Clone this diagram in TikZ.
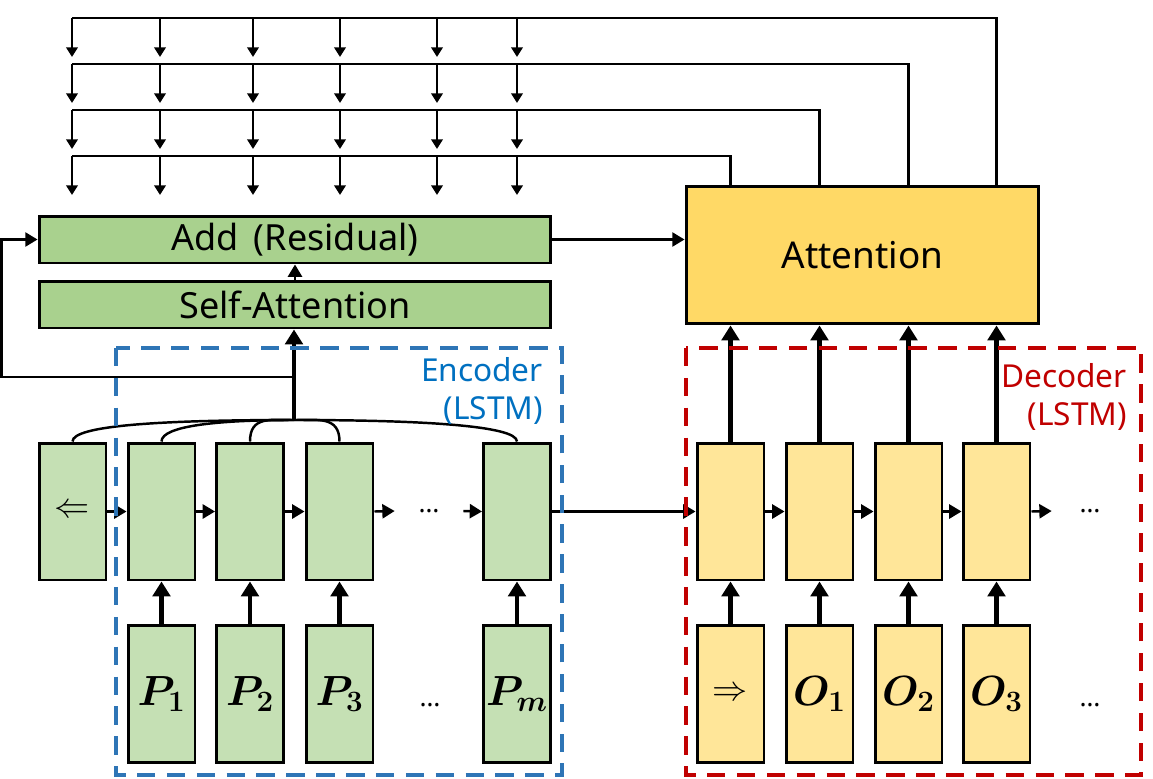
\RequirePackage{fix-cm}
\documentclass[tikz,border=0pt]{standalone}
\usepackage{fontspec}
\setmainfont{Noto Sans}
\usepackage{amsmath,bm}
\usepackage{tikz}
\usetikzlibrary{arrows.meta, positioning, calc}

\definecolor{selfgreen}{HTML}{A9D18E}
\definecolor{cellgreen}{HTML}{C5E0B4}
\definecolor{attgold}{HTML}{FFD966}
\definecolor{cellgold}{HTML}{FFE699}
\definecolor{encblue}{HTML}{2E75B6}
\definecolor{enctext}{HTML}{0070C0}
\definecolor{decred}{HTML}{C00000}

\begin{document}
\begin{tikzpicture}[x=0.02cm, y=-0.02cm,
  layer/.style={draw, line width=1.7pt, fill=selfgreen, minimum width=10.24cm, minimum height=0.94cm, inner sep=0pt, font=\fontsize{20.5}{24}\selectfont},
  enccell/.style={draw, line width=1.7pt, fill=cellgreen, minimum width=1.34cm, minimum height=2.74cm, inner sep=0pt},
  deccell/.style={enccell, fill=cellgold},
  symb/.style={font=\fontsize{24}{28}\selectfont},
  dots/.style={inner sep=0pt, font=\fontsize{15}{18}\bfseries},
  plain/.style={line width=1.4pt},
  link/.style={line width=1.4pt, -{Triangle[width=8pt,length=7pt]}},
  buslink/.style={line width=1.4pt, -{Triangle[width=6.5pt,length=5.5pt]}},
  thicklink/.style={line width=2.4pt, -{Triangle[width=10pt,length=8.5pt]}},
  box/.style={line width=2.3pt, dash pattern=on 10.5pt off 6.5pt},
  tag/.style={anchor=east, align=right, font=\fontsize{18}{21.5}\selectfont}
]
\useasboundingbox (0,0) rectangle (1153,778);

% Top layers
\node[layer] (addres) at (295,239.5) {Add \,(Residual)};
\node[layer] (selfatt) at (295,304.5) {Self-Attention};
\node[draw, line width=1.7pt, fill=attgold, minimum width=7.06cm, minimum height=2.76cm,
      font=\fontsize{21}{25}\selectfont] (attn) at (862.5,255) {Attention};

% Encoder cells
\node[enccell] (enc0) at (72.5,511.5) {\fontsize{20}{24}\selectfont$\Leftarrow$};
\node[enccell] (enc1) at (161.5,511.5) {};
\node[enccell] (enc2) at (250,511.5) {};
\node[enccell] (enc3) at (339.5,511.5) {};
\node[dots, minimum width=1.36cm] (edots) at (429,511) {…};
\node[enccell] (encm) at (517,511.5) {};

% Encoder inputs
\node[enccell, symb] (inp1) at (161.5,694) {$\bm{P_1}$};
\node[enccell, symb] (inp2) at (250,694) {$\bm{P_2}$};
\node[enccell, symb] (inp3) at (339.5,694) {$\bm{P_3}$};
\node[dots] (idots) at (430,705) {…};
\node[enccell, symb] (inpm) at (517,694) {$\bm{P_m}$};

% Decoder cells
\node[deccell] (dec1) at (730.5,511.5) {};
\node[deccell] (dec2) at (819.5,511.5) {};
\node[deccell] (dec3) at (908.5,511.5) {};
\node[deccell] (dec4) at (996.5,511.5) {};
\node[dots, minimum width=1.52cm] (ddots) at (1090,511) {…};

% Decoder inputs
\node[deccell] (out0) at (730.5,694) {\fontsize{20}{24}\selectfont$\Rightarrow$};
\node[deccell, symb] (out1) at (819.5,694) {$\bm{O_1}$};
\node[deccell, symb] (out2) at (908.5,694) {$\bm{O_2}$};
\node[deccell, symb] (out3) at (996.5,694) {$\bm{O_3}$};
\node[dots] (odots) at (1090,705) {…};

% Recurrent links
\draw[link] (enc0.east) -- (enc1.west);
\draw[link] (enc1.east) -- (enc2.west);
\draw[link] (enc2.east) -- (enc3.west);
\draw[link] (enc3.east) -- (edots.west);
\draw[link] (edots.east) -- (encm.west);
\draw[link] (encm.east) -- (dec1.west);
\draw[link] (dec1.east) -- (dec2.west);
\draw[link] (dec2.east) -- (dec3.west);
\draw[link] (dec3.east) -- (dec4.west);
\draw[link] (dec4.east) -- (ddots.west);

% Inputs into cells
\foreach \a/\b in {inp1/enc1, inp2/enc2, inp3/enc3, inpm/encm, out0/dec1, out1/dec2, out2/dec3, out3/dec4}
  \draw[thicklink] (\a.north) -- (\b.south);

% Decoder states to attention
\foreach \k in {1,...,4}
  \draw[thicklink] (dec\k.north) -- (dec\k.north |- attn.south);

% Encoder states gathered
\coordinate (hub) at (294,420);
\coordinate (split) at (294,377);
\draw[plain] (enc0.north) .. controls +(0,-16) and (160,420) .. (hub);
\draw[plain] (enc1.north) .. controls +(0,-16) and (220,420) .. (hub);
\draw[plain] (enc2.north) .. controls (250,416) and (270,420) .. (hub);
\draw[plain] (enc3.north) .. controls (339.5,416) and (318,420) .. (hub);
\draw[plain] (encm.north) .. controls +(0,-16) and (420,420) .. (hub);
\draw[thicklink] (hub) -- (hub |- selfatt.south);
\draw[link] (split) -| ([xshift=-0.72cm]addres.west) -- (addres.west);
\draw[link] (selfatt.north) -- (addres.south);
\draw[link] (addres.east) -- (addres.east -| attn.west);

% Attention outputs fed back
\foreach \k/\y in {1/156, 2/110, 3/64, 4/18}
  \draw[plain] (dec\k.north |- attn.north) |- (72,\y);
\foreach \y [count=\i] in {18,64,110,156}
  \foreach \x [count=\j] in {72,160,253,340,437,517} {
    \coordinate (drop\i\j) at (\x,\y+39);
    \draw[buslink] (\x,\y) -- (drop\i\j);
  }

% Encoder / decoder frames
\draw[box, encblue] (116,348) rectangle (562,775);
\draw[box, decred] (686,348) rectangle (1141,775);
\node[tag, text=enctext] (enctag) at (549,391) {Encoder\\(LSTM)};
\node[tag, text=decred] (dectag) at (1133,397) {Decoder\\(LSTM)};

\end{tikzpicture}
\end{document}
